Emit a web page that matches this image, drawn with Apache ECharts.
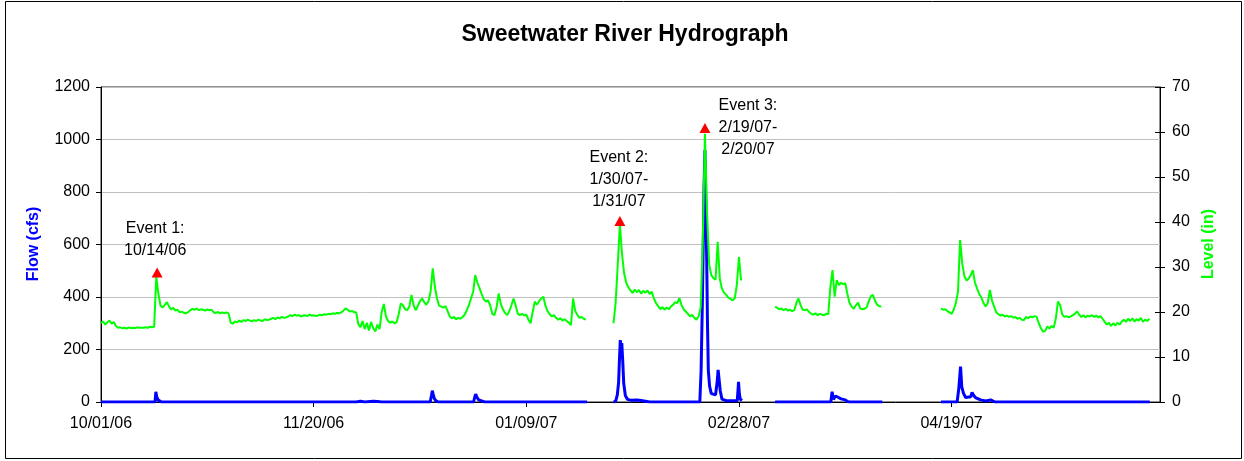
<!DOCTYPE html>
<html>
<head>
<meta charset="utf-8">
<title>Sweetwater River Hydrograph</title>
<script src="https://cdn.jsdelivr.net/npm/echarts@6/dist/echarts.min.js"></script>
<style>
  html, body { margin: 0; padding: 0; background: #fff; }
  #chart { width: 1244px; height: 461px; }
</style>
</head>
<body>
<div id="chart"></div>
<script>
// Days are counted from 10/01/06. Level is sampled every half day (null = no record).
const LEVEL_STEP = 0.5;
const levelIn = [
  17.6, 17.9, 17.2, 17.7, 18.1, 17.4, 17.8, 16.9, 16.5, 16.6, 16.4, 16.5, 16.3, 16.6, 16.4, 16.5, 16.4, 16.6, 16.5, 16.5,
  16.5, 16.6, 16.5, 16.7, 16.6, 16.7, 27.8, 24.0, 21.4, 21.0, 21.6, 22.2, 21.2, 20.6, 20.9, 20.3, 20.5, 19.9, 20.1, 19.8,
  19.7, 20.0, 20.4, 20.7, 20.5, 20.8, 20.4, 20.6, 20.5, 20.3, 20.6, 20.4, 20.5, 19.9, 19.8, 20.0, 19.7, 19.9, 19.8, 19.9,
  19.7, 17.6, 17.4, 17.9, 17.7, 18.1, 17.8, 18.2, 18.0, 18.3, 18.1, 17.9, 18.2, 18.0, 18.3, 18.1, 18.0, 18.4, 18.2, 18.3,
  18.5, 18.7, 18.4, 18.8, 18.6, 18.9, 18.7, 18.8, 19.0, 19.3, 19.1, 19.4, 19.2, 19.3, 19.0, 19.2, 19.3, 19.1, 19.4, 19.2,
  19.3, 19.1, 19.2, 19.4, 19.3, 19.5, 19.4, 19.6, 19.5, 19.7, 19.6, 19.8, 19.7, 19.9, 20.3, 20.8, 20.5, 20.1, 20.2, 20.0,
  19.9, 17.3, 16.6, 18.0, 16.2, 17.6, 15.9, 17.8, 16.4, 15.7, 17.2, 16.2, 20.0, 21.8, 19.0, 18.0, 17.6, 17.9, 17.5, 17.7,
  19.5, 21.9, 21.5, 20.6, 20.4, 21.2, 23.8, 21.5, 20.4, 21.4, 22.4, 23.0, 22.2, 21.6, 22.4, 24.5, 29.7, 25.6, 23.0, 21.4,
  21.2, 21.0, 21.3, 20.2, 19.0, 18.6, 18.9, 18.4, 18.7, 18.5, 18.9, 19.4, 20.4, 21.5, 23.0, 24.5, 28.2, 26.5, 25.3, 24.0,
  22.8, 22.3, 22.6, 21.5, 19.6, 19.3, 21.0, 24.1, 21.8, 20.6, 19.8, 19.3, 20.2, 21.5, 23.0, 21.4, 19.6, 19.3, 19.6, 19.2,
  19.4, 18.3, 17.5, 20.0, 22.3, 21.6, 22.4, 23.0, 23.4, 21.4, 20.2, 19.5, 19.0, 19.3, 18.7, 18.3, 18.6, 18.1, 18.4, 18.0,
  17.6, 17.1, 23.0, 20.2, 19.4, 18.7, 18.9, 18.5, 18.3, null, null, null, null, null, null, null, null, null, null, null,
  null, 17.5, 22.0, 30.5, 39.5, 33.0, 28.6, 26.5, 25.5, 24.8, 24.2, 25.0, 24.4, 24.9, 24.1, 24.7, 24.3, 24.8, 24.0, 24.5,
  23.0, 22.0, 21.3, 20.6, 21.1, 20.5, 21.0, 20.6, 21.2, 21.6, 22.2, 22.0, 23.1, 21.5, 20.6, 20.1, 19.6, 19.0, 19.4, 18.7,
  18.3, 19.0, 21.0, 36.0, 59.6, 42.0, 30.5, 28.2, 27.5, 27.2, 35.6, 27.4, 25.2, 24.3, 23.8, 23.2, 22.9, 22.6, 23.0, 26.0,
  32.2, 27.0, null, null, null, null, null, null, null, null, null, null, null, null, null, null, null, 21.2, 20.9, 20.6,
  20.8, 20.4, 20.7, 20.3, 20.5, 20.2, 20.4, 22.0, 23.0, 21.5, 20.5, 20.4, 20.6, 20.0, 19.6, 19.4, 19.7, 19.3, 19.6, 19.4,
  19.3, 19.6, 19.5, 25.6, 29.3, 23.4, 27.1, 26.0, 26.5, 26.2, 26.4, 24.0, 22.0, 21.2, 20.7, 21.5, 22.1, 20.8, 20.6, 20.7,
  21.0, 22.3, 23.5, 23.8, 22.5, 21.6, 21.3, 21.2, null, null, null, null, null, null, null, null, null, null, null, null,
  null, null, null, null, null, null, null, null, null, null, null, null, null, null, null, 20.8, 20.5, 20.6, 20.2, 19.9,
  19.6, 20.5, 22.0, 24.5, 36.0, 30.8, 28.0, 27.0, 27.4, 28.2, 29.3, 26.5, 25.2, 24.0, 23.2, 22.0, 21.2, 22.0, 24.9, 22.5,
  21.2, 19.9, 19.5, 19.2, 19.4, 19.0, 19.2, 18.9, 19.1, 18.7, 18.9, 18.5, 18.7, 18.3, 18.2, 18.9, 18.6, 19.0, 18.8, 19.1,
  18.9, 17.5, 16.4, 15.6, 15.8, 16.8, 16.3, 16.9, 16.5, 18.5, 22.3, 21.6, 19.5, 18.9, 19.1, 18.8, 19.0, 19.3, 19.6, 20.1,
  19.4, 18.9, 19.3, 18.8, 19.2, 19.0, 19.3, 18.9, 19.2, 18.8, 19.1, 18.5, 17.8, 17.2, 17.6, 16.9, 17.5, 17.0, 17.6, 17.2,
  17.9, 18.3, 17.8, 18.5, 18.0, 18.6, 17.9, 18.4, 18.1, 18.7, 17.8, 18.3, 18.0, 18.5
];

// Flow (cfs) as [day, value]; null marks the breaks in the record.
const flowCfs = [
  [0, 0], [12.7, 0], [12.9, 39], [13.1, 20], [13.4, 8], [13.8, 2], [14.2, 0],
  [60, 0], [61, 3], [62, 0], [64, 3], [65, 2], [66, 0],
  [72.4, 0], [72.7, 7], [73.0, 0],
  [77.4, 0], [77.7, 25], [77.9, 43], [78.1, 30], [78.4, 12], [78.8, 4], [79.3, 0],
  [87.6, 0], [87.9, 20], [88.1, 30], [88.4, 18], [88.8, 8], [89.5, 4], [90.2, 0],
  [92.8, 0], [93.1, 5], [93.4, 0], [103.7, 0], [104, 4], [104.3, 0], [114.3, 0],
  [117, null],
  [120.5, 0], [121, 2], [121.4, 27], [121.7, 74], [121.9, 160], [122.1, 236], [122.3, 200], [122.45, 224],
  [122.7, 148], [122.9, 72], [123.3, 24], [123.8, 10], [124.5, 7], [126, 8], [127, 6], [128, 3], [129, 0],
  [140.8, 0], [141.1, 120], [141.4, 380], [141.6, 600], [141.8, 820], [142.0, 960], [142.2, 760], [142.4, 560],
  [142.6, 300], [142.8, 120], [143.1, 60], [143.5, 32], [144.5, 27], [144.9, 80], [145.1, 122], [145.3, 127],
  [145.6, 43], [146, 11], [147, 5], [149.6, 5], [149.8, 50], [149.9, 77], [150.1, 30], [150.3, 11], [150.7, 5],
  [154, null],
  [158.5, 0], [171.6, 0], [171.9, 39], [172.2, 10], [172.7, 23], [173.3, 18], [174, 12], [175, 8], [175.5, 2],
  [176, 0], [181, 0], [181.3, 5], [181.6, 0], [183.7, 0],
  [190, null],
  [197.5, 0], [201.3, 0], [201.7, 53], [202.1, 135], [202.4, 57], [202.8, 33], [203.3, 17], [204.5, 20],
  [204.8, 36], [205.2, 25], [205.6, 17], [206.8, 8], [208, 4], [209.2, 8], [209.6, 2], [210.2, 0], [246.6, 0]
];

// Sampling events: day, level (in) and caption.
const eventDays = [13.2, 122.0, 142.0];
const eventLevels = [28.8, 40.2, 60.9];
const eventNames = ['Event 1:\n10/14/06', 'Event 2:\n1/30/07-\n1/31/07', 'Event 3:\n2/19/07-\n2/20/07'];

const xTickLabels = ['10/01/06', '11/20/06', '01/09/07', '02/28/07', '04/19/07'];
const X_TICK_DAYS = 50;

const FONT = '"Liberation Sans", Arial, sans-serif';

const levelData = levelIn.map((v, i) => [i * LEVEL_STEP, v]);

// Caption placement relative to each triangle
const eventLabelOffsets = [[-2, -33], [-1, -42], [43, 0]];
const eventData = eventDays.map((d, i) => ({
  value: [d, eventLevels[i]],
  label: {
    show: true,
    formatter: eventNames[i],
    position: 'inside',
    align: 'center',
    verticalAlign: 'middle',
    offset: eventLabelOffsets[i],
    fontFamily: FONT,
    fontSize: 16,
    lineHeight: 22,
    color: '#000'
  }
}));

const plainNumber = v => String(v);

const chart = echarts.init(document.getElementById('chart'), null, { renderer: 'canvas' });

const option = {
  animation: false,
  backgroundColor: '#fff',
  grid: {
    left: 101, right: 84, top: 87, bottom: 59,
    show: true, borderColor: '#222', borderWidth: 1, backgroundColor: 'transparent'
  },
  graphic: [
    {
      type: 'rect', silent: true, z: 0,
      shape: { x: 5.5, y: 1.5, width: 1236, height: 457 },
      style: { fill: 'none', stroke: '#000', lineWidth: 1 }
    },
    {
      type: 'text', x: 625, y: 35, silent: true,
      style: { text: 'Sweetwater River Hydrograph', font: 'bold 23px ' + FONT, fill: '#000', align: 'center', verticalAlign: 'middle' }
    },
    {
      type: 'text', x: 34, y: 244, rotation: Math.PI / 2, silent: true,
      style: { text: 'Flow (cfs)', font: 'bold 16px ' + FONT, fill: '#0000ff', align: 'center', verticalAlign: 'middle' }
    },
    {
      type: 'text', x: 1209, y: 244, rotation: Math.PI / 2, silent: true,
      style: { text: 'Level (in)', font: 'bold 16px ' + FONT, fill: '#00ff00', align: 'center', verticalAlign: 'middle' }
    }
  ],
  xAxis: {
    type: 'value', min: 0, max: 249, interval: X_TICK_DAYS,
    axisLine: { show: true, lineStyle: { color: '#000', width: 1 } },
    axisTick: { show: true, length: 5, lineStyle: { color: '#000' } },
    axisLabel: {
      fontFamily: FONT, fontSize: 16, color: '#000', margin: 14, showMaxLabel: false,
      formatter: v => xTickLabels[Math.round(v / X_TICK_DAYS)] || ''
    },
    splitLine: { show: false }
  },
  yAxis: [
    {
      type: 'value', position: 'left', min: 0, max: 1200, interval: 200,
      axisLine: { show: true, lineStyle: { color: '#000' } },
      axisTick: { show: true, length: 5, lineStyle: { color: '#000' } },
      axisLabel: { fontFamily: FONT, fontSize: 16, color: '#000', margin: 11, formatter: plainNumber },
      splitLine: { show: true, lineStyle: { color: '#c0c0c0', width: 1 } }
    },
    {
      type: 'value', position: 'right', min: 0, max: 70, interval: 10,
      axisLine: { show: true, lineStyle: { color: '#000' } },
      axisTick: { show: true, length: 5, lineStyle: { color: '#000' } },
      axisLabel: { fontFamily: FONT, fontSize: 16, color: '#000', margin: 12, formatter: plainNumber },
      splitLine: { show: false }
    },
    {
      // inner half of the cross ticks on the level axis
      type: 'value', position: 'right', min: 0, max: 70, interval: 10,
      axisLine: { show: false },
      axisTick: { show: true, inside: true, length: 5, lineStyle: { color: '#000' } },
      axisLabel: { show: false },
      splitLine: { show: false }
    }
  ],
  series: [
    {
      name: 'Flow', type: 'line', yAxisIndex: 0, data: flowCfs,
      showSymbol: false, connectNulls: false, z: 2,
      lineStyle: { color: '#0000ff', width: 3 }, itemStyle: { color: '#0000ff' }
    },
    {
      name: 'Level', type: 'line', yAxisIndex: 1, data: levelData,
      showSymbol: false, connectNulls: false, z: 3,
      lineStyle: { color: '#00ff00', width: 2 }, itemStyle: { color: '#00ff00' }
    },
    {
      name: 'Events', type: 'scatter', yAxisIndex: 1, data: eventData, z: 4,
      symbol: 'triangle', symbolSize: [11, 10],
      itemStyle: { color: '#ff0000', opacity: 1 }
    }
  ]
};

chart.setOption(option);
</script>
</body>
</html>
